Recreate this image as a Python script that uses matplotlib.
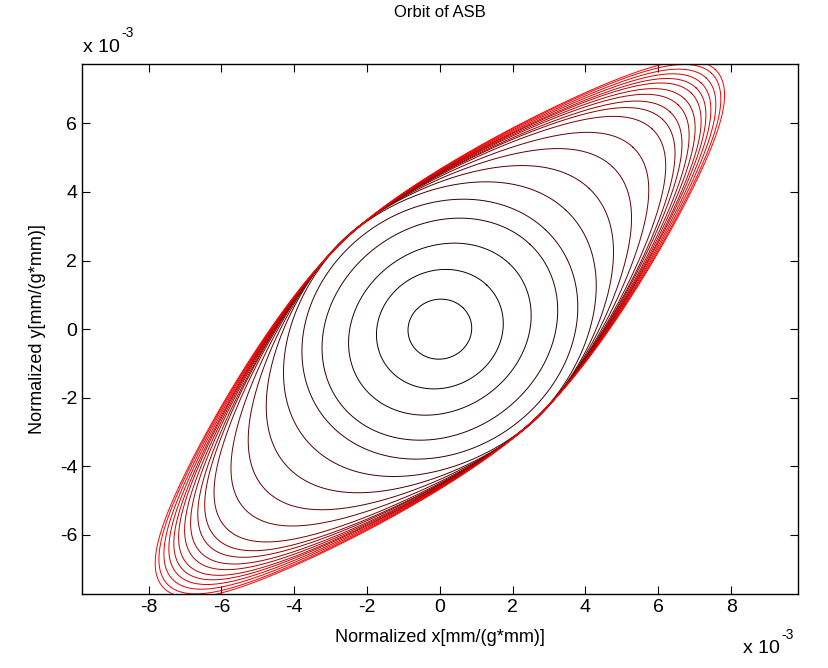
import matplotlib
matplotlib.use("Agg")
import matplotlib.pyplot as plt
import numpy as np

plt.rcParams['font.family'] = ['Liberation Sans', 'DejaVu Sans']

# orbit shape parameters (units of 1e-3),
# measured in a frame turned 45 deg: P along the long diagonal, Q across it,
# pinch = how much the sides are pulled in (0 = plain ellipse)
orb_P = [0.89, 1.82, 2.7, 3.5, 4.1, 4.9, 5.8, 6.7, 7.5, 8.25,
         8.65, 8.95, 9.25, 9.5, 9.75, 9.95, 10.15, 10.35, 10.55, 10.7]
orb_Q = [0.86, 1.66, 2.3, 2.95, 3.45, 3.7, 3.72, 3.72, 3.72, 3.7,
         3.7, 3.7, 3.7, 3.7, 3.7, 3.7, 3.7, 3.7, 3.7, 3.7]
orb_pinch = [0, 0, 0, 0, 0, 0.05, 0.12, 0.2, 0.26, 0.3,
             0.32, 0.34, 0.35, 0.36, 0.37, 0.38, 0.38, 0.38, 0.38, 0.38]

xticks = [-8, -6, -4, -2, 0, 2, 4, 6, 8]
yticks = [-6, -4, -2, 0, 2, 4, 6]


def orbit(P, Q, pinch, n=1200):
    t = np.linspace(0, 2*np.pi, n)
    c = np.sqrt(np.cos(t)**2 + 0.04) - 0.2
    u = P*np.cos(t)
    v = Q*np.sin(t)*(1 - pinch*(c - 0.6*c**6))
    return (u - v)/np.sqrt(2), (u + v)/np.sqrt(2)


fig = plt.figure(figsize=(8.29, 6.68), dpi=100)
ax = fig.add_axes([0.0989, 0.1103, 0.8634, 0.7939])

N = len(orb_P)
for k in range(N):
    x, y = orbit(orb_P[k], orb_Q[k], orb_pinch[k])
    ax.plot(x*1e-3, y*1e-3, color=(k/(N-1), 0, 0), lw=0.7)

ax.set_xlim(-9.83e-3, 9.83e-3)
ax.set_ylim(-7.73e-3, 7.73e-3)
ax.set_xticks([t*1e-3 for t in xticks])
ax.set_xticklabels([str(t) for t in xticks])
ax.set_yticks([t*1e-3 for t in yticks])
ax.set_yticklabels([str(t) for t in yticks])
ax.tick_params(direction='in', top=True, right=True, labelsize=14, length=6)
for sp in ax.spines.values():
    sp.set_linewidth(1.0)

ax.set_title("Orbit of ASB", fontsize=12, pad=34)
ax.set_xlabel("Normalized x[mm/(g*mm)]", fontsize=13, labelpad=9)
ax.set_ylabel("Normalized y[mm/(g*mm)]", fontsize=13, labelpad=10)

# multiplier labels in the MATLAB way
fig.text(0.1, 0.922, "x 10", fontsize=14)
fig.text(0.147, 0.944, "-3", fontsize=10)
fig.text(0.896, 0.022, "x 10", fontsize=14)
fig.text(0.943, 0.044, "-3", fontsize=10)

fig.savefig("out.png", dpi=100)
